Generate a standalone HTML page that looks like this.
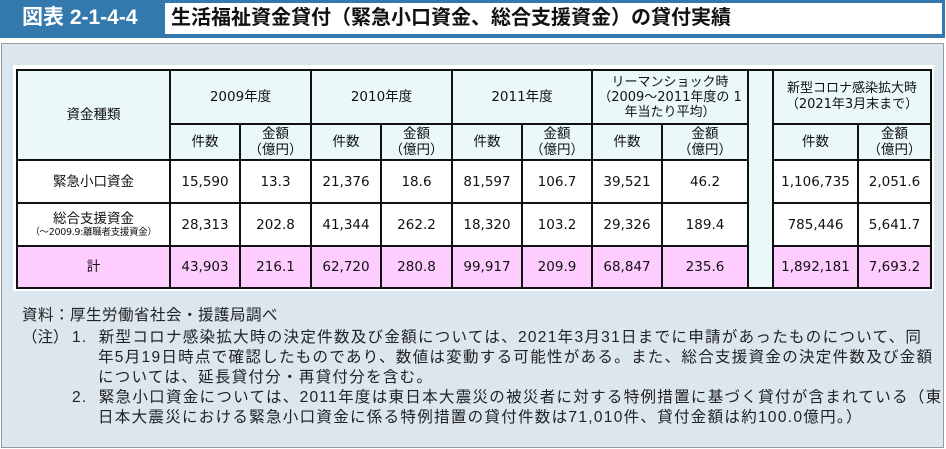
<!DOCTYPE html>
<html><head><meta charset="utf-8"><style>
*{margin:0;padding:0;box-sizing:border-box}
body{width:946px;height:449px;background:#fff;font-family:"Liberation Sans","Noto Sans CJK JP",sans-serif;position:relative;overflow:hidden;color:#111}
#bar{position:absolute;left:0;top:0;width:945px;height:38px;background:#3479ad}
#lbl{position:absolute;left:0;top:0;width:164px;height:38px;color:#fff;font-weight:bold;font-size:21px;line-height:36px;padding-left:22px}
#ttl{position:absolute;left:165px;top:3px;width:777px;height:31px;background:#fff;font-weight:bold;font-size:20px;line-height:31px;padding-left:6px;color:#111}
#panel{position:absolute;left:1px;top:43px;width:943px;height:405px;background:#dce6ee;border:1px solid #999}
#tbox{position:absolute;left:13px;top:65px;width:921px;height:226px;background:#fff}
table{position:absolute;left:16px;top:69px;border-collapse:collapse;table-layout:fixed;font-size:13.5px;font-family:"DejaVu Sans","Noto Sans CJK JP",sans-serif}
td{border:2px solid #111;text-align:center;vertical-align:middle;line-height:16px;padding:0}
.h{background:#eaf8f9}
.p{background:#ffccff}
.sm{font-size:9.5px;display:block;line-height:12px;letter-spacing:-0.3px}
#notes{position:absolute;left:22px;top:306px;font-size:15.5px;line-height:20px;color:#222}
.n{position:absolute;white-space:nowrap;letter-spacing:1.3px}
</style></head><body>
<div id="bar"></div>
<div id="lbl">図表 2-1-4-4</div>
<div id="ttl">生活福祉資金貸付（緊急小口資金、総合支援資金）の貸付実績</div>
<div id="panel"></div>
<div id="tbox"></div>
<table>
<colgroup><col style="width:153px"><col style="width:70px"><col style="width:71px"><col style="width:70px"><col style="width:71px"><col style="width:70px"><col style="width:70px"><col style="width:70px"><col style="width:86px"><col style="width:25px"><col style="width:85px"><col style="width:73px"></colgroup>
<tr style="height:54px">
<td class="h" rowspan="2">資金種類</td>
<td class="h" colspan="2">2009年度</td>
<td class="h" colspan="2">2010年度</td>
<td class="h" colspan="2">2011年度</td>
<td class="h" colspan="2" style="font-size:13px;line-height:15px">リーマンショック時<br>（2009～2011年度の 1<br>年当たり平均）</td>
<td class="h" rowspan="5"></td>
<td class="h" colspan="2" style="font-size:13px">新型コロナ感染拡大時<br>（2021年3月末まで）</td>
</tr>
<tr style="height:36px">
<td class="h">件数</td><td class="h">金額<br>（億円）</td>
<td class="h">件数</td><td class="h">金額<br>（億円）</td>
<td class="h">件数</td><td class="h">金額<br>（億円）</td>
<td class="h">件数</td><td class="h">金額<br>（億円）</td>
<td class="h">件数</td><td class="h">金額<br>（億円）</td>
</tr>
<tr style="height:43px">
<td>緊急小口資金</td><td>15,590</td><td>13.3</td><td>21,376</td><td>18.6</td><td>81,597</td><td>106.7</td><td>39,521</td><td>46.2</td><td>1,106,735</td><td>2,051.6</td></tr>
<tr style="height:43px">
<td>総合支援資金<span class="sm">（～2009.9:離職者支援資金）</span></td><td>28,313</td><td>202.8</td><td>41,344</td><td>262.2</td><td>18,320</td><td>103.2</td><td>29,326</td><td>189.4</td><td>785,446</td><td>5,641.7</td></tr>
<tr style="height:42px" class="p">
<td>計</td><td>43,903</td><td>216.1</td><td>62,720</td><td>280.8</td><td>99,917</td><td>209.9</td><td>68,847</td><td>235.6</td><td>1,892,181</td><td>7,693.2</td></tr>
</table>
<div id="notes">
<div class="n" style="left:0;top:0;letter-spacing:0.5px">資料：厚生労働省社会・援護局調べ</div>
<div class="n" style="left:0;top:22px;letter-spacing:0">（注）</div>
<div class="n" style="left:50px;top:22px">1.&nbsp;&nbsp;新型コロナ感染拡大時の決定件数及び金額については、2021年3月31日までに申請があったものについて、同</div>
<div class="n" style="left:76px;top:42px">年5月19日時点で確認したものであり、数値は変動する可能性がある。また、総合支援資金の決定件数及び金額</div>
<div class="n" style="left:76px;top:62px">については、延長貸付分・再貸付分を含む。</div>
<div class="n" style="left:50px;top:82px">2.&nbsp;&nbsp;緊急小口資金については、2011年度は東日本大震災の被災者に対する特例措置に基づく貸付が含まれている（東</div>
<div class="n" style="left:76px;top:102px">日本大震災における緊急小口資金に係る特例措置の貸付件数は71,010件、貸付金額は約100.0億円。）</div>
</div>
</body></html>
